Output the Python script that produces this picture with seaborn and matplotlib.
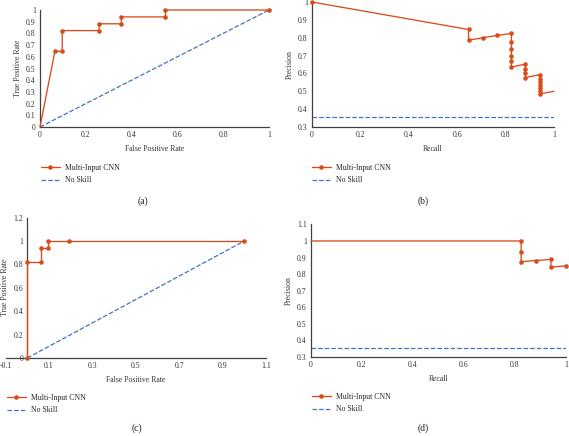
import matplotlib
matplotlib.use("Agg")
import matplotlib.pyplot as plt
import seaborn as sns
import pandas as pd
from matplotlib.ticker import FuncFormatter, MultipleLocator

# ---------------- data ----------------
a_fpr = [0, 0.065, 0.097, 0.097, 0.258, 0.258, 0.355, 0.355, 0.548, 0.548, 1.0]
a_tpr = [0, 0.647, 0.647, 0.824, 0.824, 0.882, 0.882, 0.941, 0.941, 1.0, 1.0]

b_recall = [0, 0.647, 0.647, 0.706, 0.765,
            0.824, 0.824, 0.824, 0.824, 0.824, 0.824,
            0.882, 0.882, 0.882, 0.882,
            0.941, 0.941, 0.941, 0.941, 0.941, 0.941, 0.941, 1.0]
b_prec = [1.0, 0.846, 0.786, 0.800, 0.8125,
          0.824, 0.778, 0.737, 0.700, 0.667, 0.636,
          0.652, 0.625, 0.600, 0.577,
          0.593, 0.571, 0.552, 0.533, 0.516, 0.500, 0.485, 0.500]

c_fpr = [0, 0, 0.065, 0.065, 0.097, 0.097, 0.194, 1.0]
c_tpr = [0, 0.824, 0.824, 0.941, 0.941, 1.0, 1.0, 1.0]

d_recall = [0, 0.824, 0.824, 0.824, 0.882, 0.941, 0.941, 1.0]
d_prec = [1.0, 1.0, 0.933, 0.875, 0.882, 0.889, 0.842, 0.850]

roc_skill_x = [0, 1]
roc_skill_y = [0, 1]
pr_skill_x = [0, 1]
pr_skill_y = [0.354, 0.354]

series_names = ["Multi-Input CNN", "No Skill"]
captions = ["(a)", "(b)", "(c)", "(d)"]

# ---------------- style ----------------
sns.set_style("white")
plt.rcParams['font.family'] = ['Liberation Serif', 'DejaVu Serif']
ORANGE = "#D84C1C"
BLUE = "#4472C4"
AXC = "#404040"
FS = 5.6

W, H = 569, 436
fig = plt.figure(figsize=(W / 100, H / 100), dpi=100)


def add_ax(x0, x1, y_top, y_bot):
    return fig.add_axes([x0 / W, 1 - y_bot / H, (x1 - x0) / W, (y_bot - y_top) / H])


fmt = FuncFormatter(lambda v, p: f"{v:g}" if abs(v) > 1e-9 else "0")


def style(ax, xlabel, ylabel):
    for s in ["top", "right"]:
        ax.spines[s].set_visible(False)
    for s in ["left", "bottom"]:
        ax.spines[s].set_color(AXC)
        ax.spines[s].set_linewidth(0.9)
    ax.tick_params(length=0, labelsize=FS, colors="#333333", pad=3)
    ax.xaxis.set_major_formatter(fmt)
    ax.yaxis.set_major_formatter(fmt)
    ax.set_xlabel(xlabel, fontsize=FS, color="#333333", labelpad=4)
    ax.set_ylabel(ylabel, fontsize=FS, color="#333333", labelpad=3)
    ax.grid(False)


def draw(ax, x, y, sx, sy, markevery):
    df = pd.DataFrame({"x": x, "y": y})
    sns.lineplot(data=df, x="x", y="y", sort=False, estimator=None, ax=ax,
                 color=ORANGE, lw=0.95, marker="o", markersize=3.3,
                 markeredgewidth=0, markevery=markevery,
                 label=series_names[0], clip_on=False, zorder=3)
    dfs = pd.DataFrame({"x": sx, "y": sy})
    sns.lineplot(data=dfs, x="x", y="y", sort=False, estimator=None, ax=ax,
                 color=BLUE, lw=0.9, dashes=(3.5, 2.5), linestyle="--",
                 label=series_names[1], zorder=2)


def legend(ax, x_px, y_px):
    ax.legend(loc="upper left", bbox_to_anchor=(x_px / W, 1 - y_px / H),
              bbox_transform=fig.transFigure, frameon=False, fontsize=FS,
              handlelength=2.4, handletextpad=0.7, labelspacing=0.55,
              borderpad=0, borderaxespad=0)


def caption(x_px, y_px, text):
    fig.text(x_px / W, 1 - y_px / H, text, ha="center", va="center",
             fontsize=7, color="#222222")


# (a) ROC
ax = add_ax(40, 269, 10, 127)
draw(ax, a_fpr, a_tpr, roc_skill_x, roc_skill_y, list(range(1, len(a_fpr))))
ax.set_xlim(0, 1)
ax.set_ylim(0, 1)
ax.xaxis.set_major_locator(MultipleLocator(0.2))
ax.yaxis.set_major_locator(MultipleLocator(0.1))
style(ax, "False Positive Rate", "True Positive Rate")
legend(ax, 41, 164)
caption(143, 201, captions[0])

# (b) PR
ax = add_ax(312, 554, 2, 127)
draw(ax, b_recall, b_prec, pr_skill_x, pr_skill_y, list(range(0, len(b_recall) - 1)))
ax.set_xlim(0, 1)
ax.set_ylim(0.3, 1)
ax.xaxis.set_major_locator(MultipleLocator(0.2))
ax.yaxis.set_major_locator(MultipleLocator(0.1))
style(ax, "Recall", "Precision")
legend(ax, 312, 164)
caption(423, 201, captions[1])

# (c) ROC
x_m01, x_11 = 5.6, 266.0
ax = add_ax(x_m01, x_11, 217.6, 358)
draw(ax, c_fpr, c_tpr, roc_skill_x, roc_skill_y, list(range(0, len(c_fpr))))
ax.set_xlim(-0.1, 1.1)
ax.set_ylim(0, 1.2)
ax.set_xticks([-0.1, 0.1, 0.3, 0.5, 0.7, 0.9, 1.1])
ax.yaxis.set_major_locator(MultipleLocator(0.2))
style(ax, "False Positive Rate", "True Positive Rate")
ax.spines["left"].set_position(("data", 0))
ax.yaxis.set_label_coords((9.5 - x_m01) / (x_11 - x_m01), 0.5)
legend(ax, 7, 394)
caption(137, 428, captions[2])

# (d) PR
ax = add_ax(311, 566, 224.4, 357)
draw(ax, d_recall, d_prec, pr_skill_x, pr_skill_y, list(range(1, len(d_recall))))
ax.set_xlim(0, 1)
ax.set_ylim(0.3, 1.1)
ax.xaxis.set_major_locator(MultipleLocator(0.2))
ax.yaxis.set_major_locator(MultipleLocator(0.1))
style(ax, "Recall", "Precision")
legend(ax, 312, 393)
caption(423, 428, captions[3])

fig.savefig("out.png", dpi=100)
